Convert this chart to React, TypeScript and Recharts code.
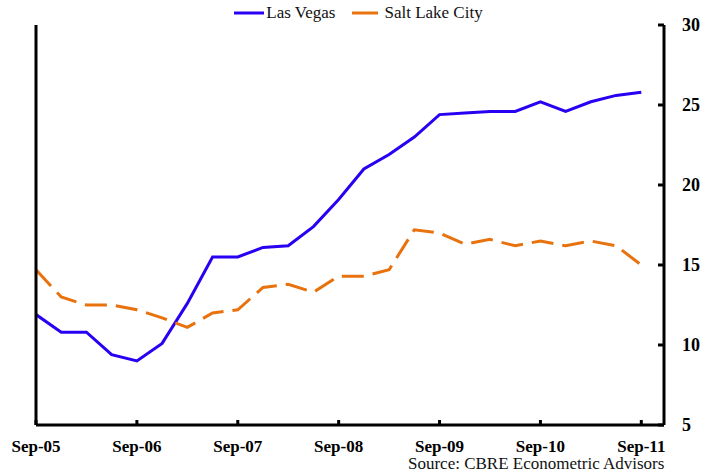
import React from 'react';
import { LineChart, Line, XAxis, YAxis, Legend } from 'recharts';

const quarters = [
  'Sep-05', 'Dec-05', 'Mar-06', 'Jun-06', 'Sep-06', 'Dec-06', 'Mar-07', 'Jun-07',
  'Sep-07', 'Dec-07', 'Mar-08', 'Jun-08', 'Sep-08', 'Dec-08', 'Mar-09', 'Jun-09',
  'Sep-09', 'Dec-09', 'Mar-10', 'Jun-10', 'Sep-10', 'Dec-10', 'Mar-11', 'Jun-11', 'Sep-11',
];
const lasVegas = [
  11.9, 10.8, 10.8, 9.4, 9.0, 10.1, 12.6, 15.5, 15.5, 16.1, 16.2, 17.4, 19.1,
  21.0, 21.9, 23.0, 24.4, 24.5, 24.6, 24.6, 25.2, 24.6, 25.2, 25.6, 25.8,
];
const saltLakeCity = [
  14.7, 13.0, 12.5, 12.5, 12.2, 11.7, 11.1, 12.0, 12.2, 13.6, 13.8, 13.3, 14.3,
  14.3, 14.7, 17.2, 17.0, 16.3, 16.6, 16.2, 16.5, 16.2, 16.5, 16.2, 15.0,
];
const xTickLabels = ['Sep-05', 'Sep-06', 'Sep-07', 'Sep-08', 'Sep-09', 'Sep-10', 'Sep-11'];
const yTicks = [5, 10, 15, 20, 25, 30];

const data = quarters.map((q, i) => ({ idx: i, label: q, lv: lasVegas[i], slc: saltLakeCity[i] }));
const xTicks = xTickLabels.map((l) => quarters.indexOf(l));

const BLUE = '#2A00F2';
const ORANGE = '#E8720E';
const FONT = '"Liberation Serif", "Times New Roman", serif';

const RightTick = (props: any) => {
  const { x, y, payload } = props;
  return (
    <g>
      <line x1={x - 18} x2={x - 24} y1={y} y2={y} stroke="#000" strokeWidth={3} />
      <text x={x} y={y} dy={6} textAnchor="start" fontFamily={FONT} fontWeight="bold" fontSize={18} fill="#000">
        {payload.value}
      </text>
    </g>
  );
};

const LeftTick = (props: any) => {
  const { x, y } = props;
  return <line x1={x} x2={x + 6} y1={y} y2={y} stroke="#000" strokeWidth={3} />;
};

const BottomTick = (props: any) => {
  const { x, y, payload } = props;
  const label = quarters[payload.value];
  return (
    <g>
      <line x1={x} x2={x} y1={y} y2={y - 5} stroke="#000" strokeWidth={3} />
      <text x={x} y={y} dy={27} textAnchor="middle" fontFamily={FONT} fontWeight="bold" fontSize={17} fill="#000">
        {label}
      </text>
    </g>
  );
};

const LegendContent = () => (
  <div style={{ display: 'flex', justifyContent: 'center', alignItems: 'center', fontFamily: FONT, fontSize: 17, color: '#111' }}>
    <svg width={30} height={6} style={{ marginRight: 2 }}>
      <line x1={0} x2={30} y1={3} y2={3} stroke={BLUE} strokeWidth={3} />
    </svg>
    <span style={{ marginRight: 17 }}>Las Vegas</span>
    <svg width={26} height={6} style={{ marginRight: 6 }}>
      <line x1={0} x2={26} y1={3} y2={3} stroke={ORANGE} strokeWidth={3} />
    </svg>
    <span>Salt Lake City</span>
  </div>
);

export default function App() {
  return (
    <div style={{ position: 'absolute', left: 0, top: 0, width: 717, height: 472, background: '#fff' }}>
      <LineChart width={717} height={472} data={data} margin={{ top: 25, right: 52, bottom: 46, left: 35 }}>
        <XAxis
          dataKey="idx"
          type="number"
          domain={[0, 24.9]}
          ticks={xTicks}
          height={1}
          tickSize={0}
          tickMargin={0}
          tickLine={false}
          axisLine={{ stroke: '#000', strokeWidth: 3 }}
          tick={<BottomTick />}
          interval={0}
          allowDataOverflow
        />
        <YAxis
          yAxisId="left"
          orientation="left"
          domain={[5, 30]}
          ticks={yTicks}
          width={1}
          tickSize={0}
          tickMargin={0}
          tickLine={false}
          axisLine={{ stroke: '#000', strokeWidth: 3 }}
          tick={<LeftTick />}
          interval={0}
        />
        <YAxis
          yAxisId="right"
          orientation="right"
          domain={[5, 30]}
          ticks={yTicks}
          width={1}
          tickSize={0}
          tickMargin={18}
          tickLine={false}
          axisLine={{ stroke: '#000', strokeWidth: 3 }}
          tick={<RightTick />}
          interval={0}
        />
        <Legend
          layout="horizontal"
          verticalAlign="middle"
          align="center"
          wrapperStyle={{ top: 3, left: 0, width: 717 }}
          content={<LegendContent />}
        />
        <Line
          yAxisId="right"
          type="linear"
          dataKey="lv"
          name="Las Vegas"
          stroke={BLUE}
          strokeWidth={3}
          dot={false}
          isAnimationActive={false}
        />
        <Line
          yAxisId="right"
          type="linear"
          dataKey="slc"
          name="Salt Lake City"
          stroke={ORANGE}
          strokeWidth={3}
          strokeDasharray="22 9"
          dot={false}
          isAnimationActive={false}
        />
      </LineChart>
      <div
        style={{
          position: 'absolute',
          left: 408,
          top: 456,
          fontFamily: FONT,
          fontSize: 17,
          color: '#111',
          whiteSpace: 'nowrap',
          lineHeight: '15px',
        }}
      >
        Source: CBRE Econometric Advisors
      </div>
    </div>
  );
}
